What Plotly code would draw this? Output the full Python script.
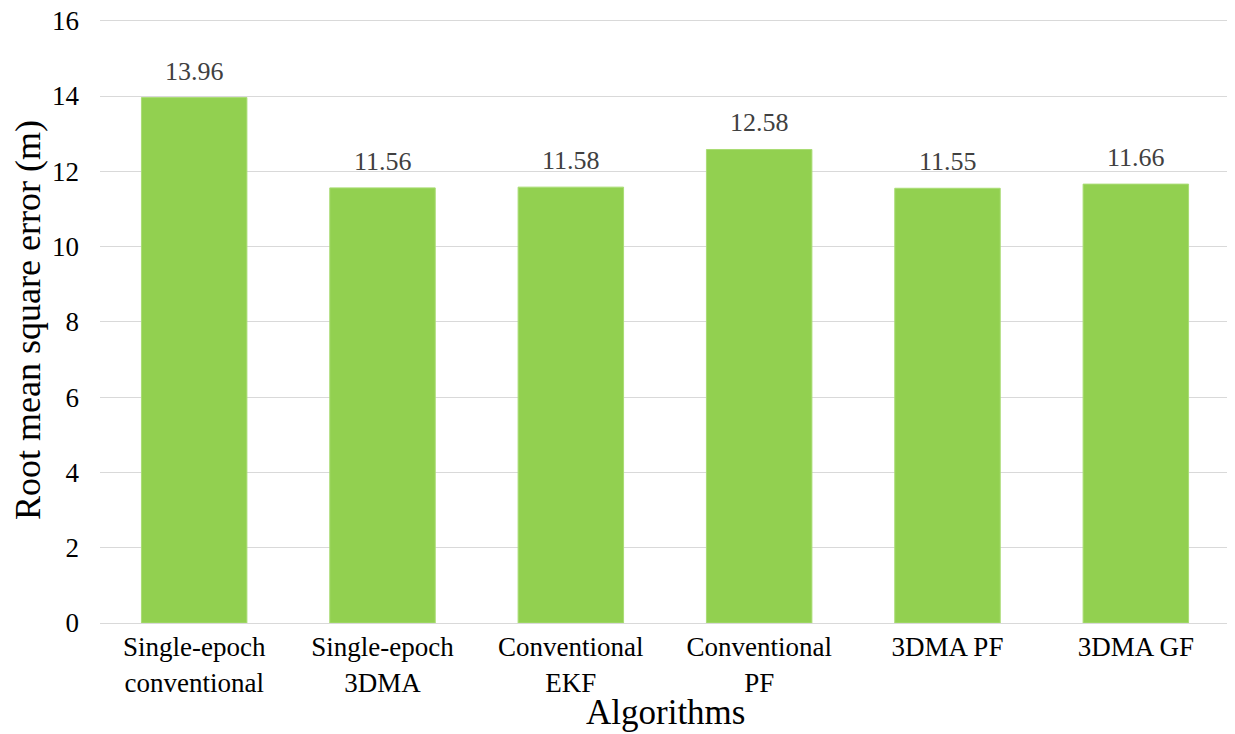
import plotly.graph_objects as go

categories = ["Single-epoch<br>conventional", "Single-epoch<br>3DMA", "Conventional<br>EKF",
              "Conventional<br>PF", "3DMA PF", "3DMA GF"]
rmse = [13.96, 11.56, 11.58, 12.58, 11.55, 11.66]
y_ticks = [0, 2, 4, 6, 8, 10, 12, 14, 16]

ff = "Liberation Serif"

fig = go.Figure(go.Bar(
    x=categories, y=rmse,
    marker=dict(color="#92D050", line=dict(color="#A9DC74", width=1)),
    hovertemplate="%{x}: %{y:.2f}<extra></extra>",
))

# data labels above the bars
for c, v in zip(categories, rmse):
    fig.add_annotation(x=c, y=v, xref="x", yref="y", text=f"{v:.2f}",
                       showarrow=False, yanchor="bottom", yshift=10,
                       font=dict(family=ff, size=26, color="#404040"))

# x-axis title
fig.add_annotation(x=0.5, y=0, xref="paper", yref="paper", text="Algorithms",
                   showarrow=False, yanchor="middle", yshift=-89,
                   font=dict(family=ff, size=35, color="black"))

fig.update_layout(
    width=1235, height=734,
    margin=dict(l=92, r=13, t=9, b=119),
    plot_bgcolor="white", paper_bgcolor="white",
    bargap=0.44,
    showlegend=False,
    font=dict(family=ff, color="black"),
    xaxis=dict(
        tickfont=dict(family=ff, size=27, color="black"),
        showline=True, linecolor="#d9d9d9", linewidth=1,
        ticks="", automargin=False,
    ),
    yaxis=dict(
        title=dict(text="Root mean square error (m)", font=dict(family=ff, size=36, color="black"), standoff=8),
        range=[0, 16.1], tickvals=y_ticks,
        tickfont=dict(family=ff, size=27, color="black"),
        showgrid=True, gridcolor="#d9d9d9", gridwidth=1,
        zeroline=False, ticks="", ticklabelstandoff=20, automargin=False,
        ticklabeloverflow="allow",
    ),
)

fig.write_html("out.html")
